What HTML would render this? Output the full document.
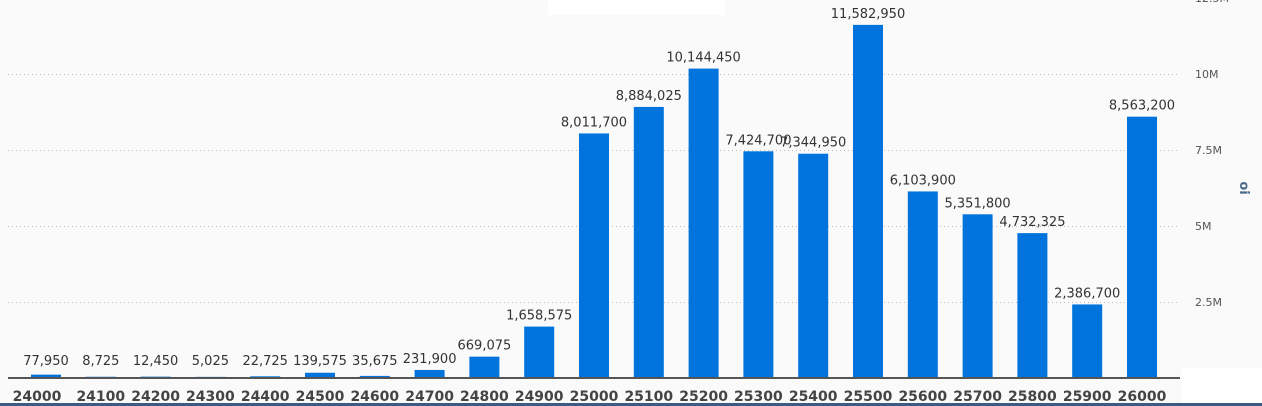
<!DOCTYPE html>
<html><head><style>
body{margin:0;width:1262px;height:406px;overflow:hidden;background:#fafafa;font-family:"DejaVu Sans","Liberation Sans",sans-serif;}
</style></head><body>
<svg width="1262" height="406" xmlns="http://www.w3.org/2000/svg" style="position:absolute;left:0;top:0">
<rect x="0" y="0" width="1262" height="406" fill="#fafafa"/>
<rect x="548" y="0" width="177" height="15" fill="#fff"/>
<rect x="1182" y="368" width="80" height="38" fill="#fff"/>
<g stroke="#bbb" stroke-dasharray="1,3" stroke-width="1">
<line x1="8" x2="1180" y1="74.5" y2="74.5"/><line x1="8" x2="1180" y1="150.5" y2="150.5"/>
<line x1="8" x2="1180" y1="226.5" y2="226.5"/><line x1="8" x2="1180" y1="302.5" y2="302.5"/>
</g>
<g font-size="11" fill="#555">
<text x="1195" y="2">12.5M</text><text x="1195" y="78">10M</text><text x="1195" y="154">7.5M</text>
<text x="1195" y="230">5M</text><text x="1195" y="306">2.5M</text></g>
<text transform="translate(1240,188) rotate(90)" font-size="13" font-weight="bold" fill="#4a6b8a" text-anchor="middle">oi</text>
<g id="bars" fill="#0073dc"></g>
<g id="vals" font-size="13" fill="#333" text-anchor="middle"></g>
<g id="cats" font-size="14" font-weight="bold" fill="#444" text-anchor="middle"></g>
<line x1="8" x2="1180" y1="378" y2="378" stroke="#555" stroke-width="2"/>
<rect x="0" y="403" width="1262" height="3" fill="#3b5a85"/>
</svg>
<script>
var v=[77950,8725,12450,5025,22725,139575,35675,231900,669075,1658575,8011700,8884025,10144450,7424700,7344950,11582950,6103900,5351800,4732325,2386700,8563200];
var b=document.getElementById('bars'),l=document.getElementById('vals'),c=document.getElementById('cats');
var ns='http://www.w3.org/2000/svg';
v.forEach(function(d,i){var cx=46+i*54.8,h=d/1e6*30.4,top=377-h;
var r=document.createElementNS(ns,'rect');r.setAttribute('x',cx-15);r.setAttribute('y',top);r.setAttribute('width',30);r.setAttribute('height',h);b.appendChild(r);
var t=document.createElementNS(ns,'text');t.setAttribute('x',cx);t.setAttribute('y',Math.min(top,372)-7);t.textContent=d.toLocaleString('en-US');l.appendChild(t);
var k=document.createElementNS(ns,'text');k.setAttribute('x',i==0?37:cx);k.setAttribute('y',401);k.textContent=24000+i*100;c.appendChild(k);});
</script>
</body></html>
